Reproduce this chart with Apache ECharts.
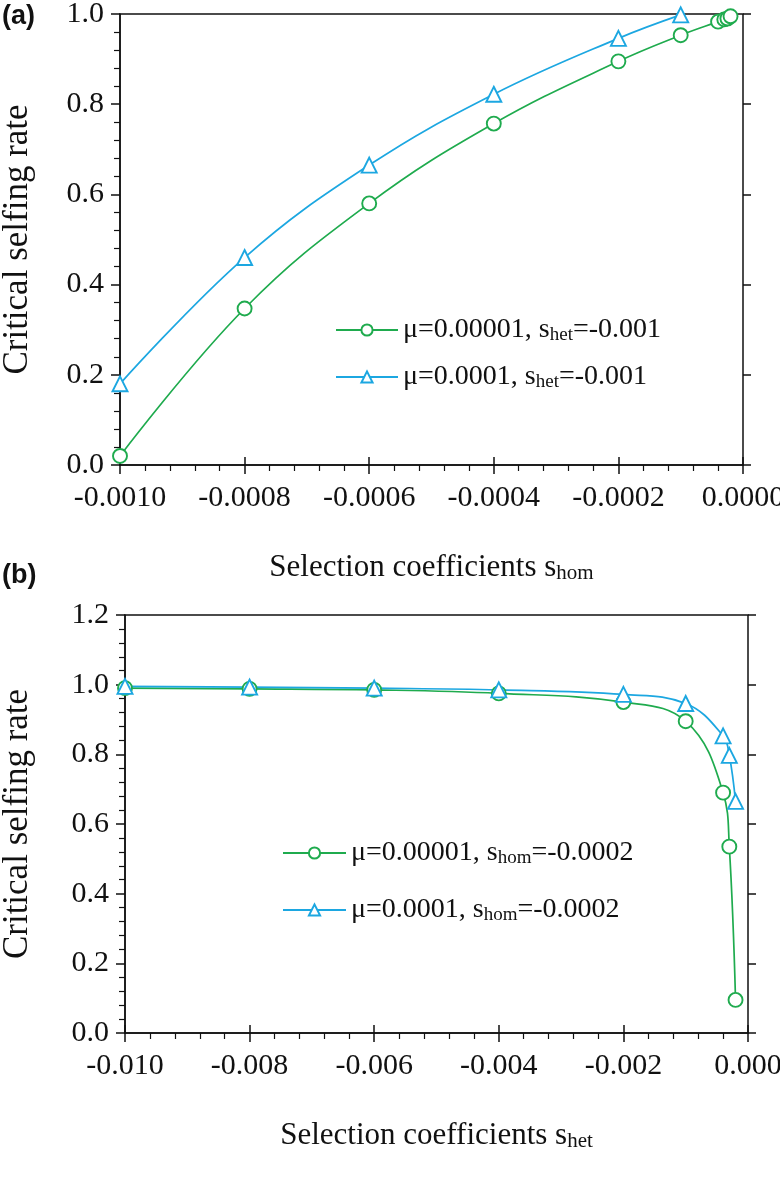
<!DOCTYPE html>
<html>
<head>
<meta charset="utf-8">
<script src="https://cdn.jsdelivr.net/npm/echarts@6/dist/echarts.min.js"></script>
<style>
html,body{margin:0;padding:0;background:#fff;}
#chart{width:780px;height:1177px;}
</style>
</head>
<body>
<div id="chart"></div>
<script>
// Panel (a): x = s_hom, y = critical selfing rate
const shomA = [-0.001, -0.0008, -0.0006, -0.0004, -0.0002, -0.0001, -0.00004, -0.00003, -0.000025, -0.00002];
const muLowA = [0.02, 0.347, 0.58, 0.757, 0.895, 0.953, 0.983, 0.988, 0.99, 0.995];
const shomA2 = [-0.001, -0.0008, -0.0006, -0.0004, -0.0002, -0.0001];
const muHighA = [0.18, 0.46, 0.665, 0.822, 0.946, 0.998];
// Panel (b): x = s_het
const shetB = [-0.01, -0.008, -0.006, -0.004, -0.002, -0.001, -0.0004, -0.0003, -0.0002];
const muLowB = [0.99, 0.988, 0.985, 0.975, 0.95, 0.895, 0.69, 0.535, 0.095];
const muHighB = [0.995, 0.993, 0.99, 0.985, 0.972, 0.946, 0.853, 0.797, 0.665];

const legendA = ['μ=0.00001, s_het=-0.001', 'μ=0.0001, s_het=-0.001'];
const legendB = ['μ=0.00001, s_hom=-0.0002', 'μ=0.0001, s_hom=-0.0002'];
const yTitle = 'Critical selfing rate';
const xTitleA = ['Selection coefficients s', 'hom'];
const xTitleB = ['Selection coefficients s', 'het'];

const GREEN = '#1fab4e';
const BLUE = '#1ca7e1';
const SERIF = '"Liberation Serif","Times New Roman",serif';
const FS = 30;

function zip(xs, ys){ return xs.map((x,i)=>[x, ys[i]]); }
function legendFmt(name){
  const m = name.match(/^(.*s)_(\w+)(=.*)$/);
  return '{t|' + m[1] + '}{sub|' + m[2] + '}{t|' + m[3] + '}';
}
const richLegend = {
  t: {fontFamily: SERIF, fontSize: 28, color: '#111'},
  sub: {fontFamily: SERIF, fontSize: 19, color: '#111', padding: [11,0,0,0]}
};
const richTitle = {
  t: {fontFamily: SERIF, fontSize: 31, color: '#111'},
  sub: {fontFamily: SERIF, fontSize: 21, color: '#111', padding: [12,0,0,0]}
};

function xAxes(gi, min, max, interval, digits, title){
  return [{
    type: 'value', gridIndex: gi, position: 'bottom', min: min, max: max, interval: interval,
    axisLine: {show: true, onZero: false, lineStyle: {color: '#111', width: 1.5}},
    axisTick: {show: true, inside: false, length: 9, lineStyle: {color: '#111', width: 1.5}},
    minorTick: {show: true, splitNumber: 5, length: 6, lineStyle: {color: '#111', width: 1.2}},
    splitLine: {show: false},
    axisLabel: {margin: 18, fontFamily: SERIF, fontSize: FS, color: '#111',
      formatter: v => (Math.abs(v) < 1e-12 ? 0 : v).toFixed(digits)},
    name: '{t|' + title[0] + '}{sub|' + title[1] + '}',
    nameLocation: 'middle', nameGap: 86,
    nameTextStyle: {rich: richTitle}
  }, {
    type: 'value', gridIndex: gi, position: 'bottom', min: min, max: max, interval: interval,
    axisLine: {show: false},
    axisTick: {show: true, inside: true, length: 8, lineStyle: {color: '#111', width: 1.5}},
    axisLabel: {show: false}, splitLine: {show: false}
  }];
}
function yAxes(gi, max, gap){
  return [{
    type: 'value', gridIndex: gi, min: 0, max: max, interval: 0.2,
    axisLine: {show: true, onZero: false, lineStyle: {color: '#111', width: 1.5}},
    axisTick: {show: true, inside: false, length: 9, lineStyle: {color: '#111', width: 1.5}},
    minorTick: {show: true, splitNumber: 5, length: 6, lineStyle: {color: '#111', width: 1.2}},
    splitLine: {show: false},
    axisLabel: {margin: 16, fontFamily: SERIF, fontSize: FS, color: '#111',
      formatter: v => v.toFixed(1)},
    name: yTitle, nameLocation: 'middle', nameGap: gap,
    nameTextStyle: {fontFamily: SERIF, fontSize: 35, color: '#111'}
  }, {
    type: 'value', gridIndex: gi, position: 'left', min: 0, max: max, interval: 0.2,
    axisLine: {show: false},
    axisTick: {show: true, inside: true, length: 8, lineStyle: {color: '#111', width: 1.5}},
    axisLabel: {show: false}, splitLine: {show: false}
  }];
}
function series(name, xi, yi, xs, ys, color, symbol){
  return {
    name: name, type: 'line', xAxisIndex: xi, yAxisIndex: yi,
    data: zip(xs, ys), smooth: 0.4, clip: false,
    symbol: symbol, symbolSize: symbol === 'circle' ? 14 : 15,
    showAllSymbol: true,
    lineStyle: {color: color, width: 1.7},
    itemStyle: {color: '#fff', borderColor: color, borderWidth: 1.9},
    emphasis: {disabled: true}
  };
}

const chart = echarts.init(document.getElementById('chart'), null, {renderer: 'canvas'});
chart.setOption({
  animation: false,
  backgroundColor: '#fff',
  grid: [
    {left: 120, top: 14, width: 623, height: 451, show: true, borderColor: '#111', borderWidth: 1.5,
     backgroundColor: 'transparent', containLabel: false, outerBoundsMode: 'none'},
    {left: 125, top: 615, width: 623, height: 418, show: true, borderColor: '#111', borderWidth: 1.5,
     backgroundColor: 'transparent', containLabel: false, outerBoundsMode: 'none'}
  ],
  xAxis: [].concat(xAxes(0, -0.001, 0, 0.0002, 4, xTitleA), xAxes(1, -0.01, 0, 0.002, 3, xTitleB)),
  yAxis: [].concat(yAxes(0, 1.0, 85), yAxes(1, 1.2, 90)),
  legend: [
    {data: legendA, orient: 'vertical', left: 330, top: 311, itemWidth: 62, itemHeight: 14, itemGap: 18,
     formatter: legendFmt, textStyle: {rich: richLegend}, selectedMode: false},
    {data: legendB, orient: 'vertical', left: 277, top: 834, itemWidth: 63, itemHeight: 14, itemGap: 28,
     formatter: legendFmt, textStyle: {rich: richLegend}, selectedMode: false}
  ],
  graphic: [
    {type: 'text', left: 2, top: 3, style: {text: '(a)', font: 'bold 27px "Liberation Sans", Arial, sans-serif', fill: '#111'}},
    {type: 'text', left: 2, top: 562, style: {text: '(b)', font: 'bold 27px "Liberation Sans", Arial, sans-serif', fill: '#111'}}
  ],
  series: [
    series(legendA[0], 0, 0, shomA, muLowA, GREEN, 'circle'),
    series(legendA[1], 0, 0, shomA2, muHighA, BLUE, 'triangle'),
    series(legendB[0], 2, 2, shetB, muLowB, GREEN, 'circle'),
    series(legendB[1], 2, 2, shetB, muHighB, BLUE, 'triangle')
  ]
});
</script>
</body>
</html>
